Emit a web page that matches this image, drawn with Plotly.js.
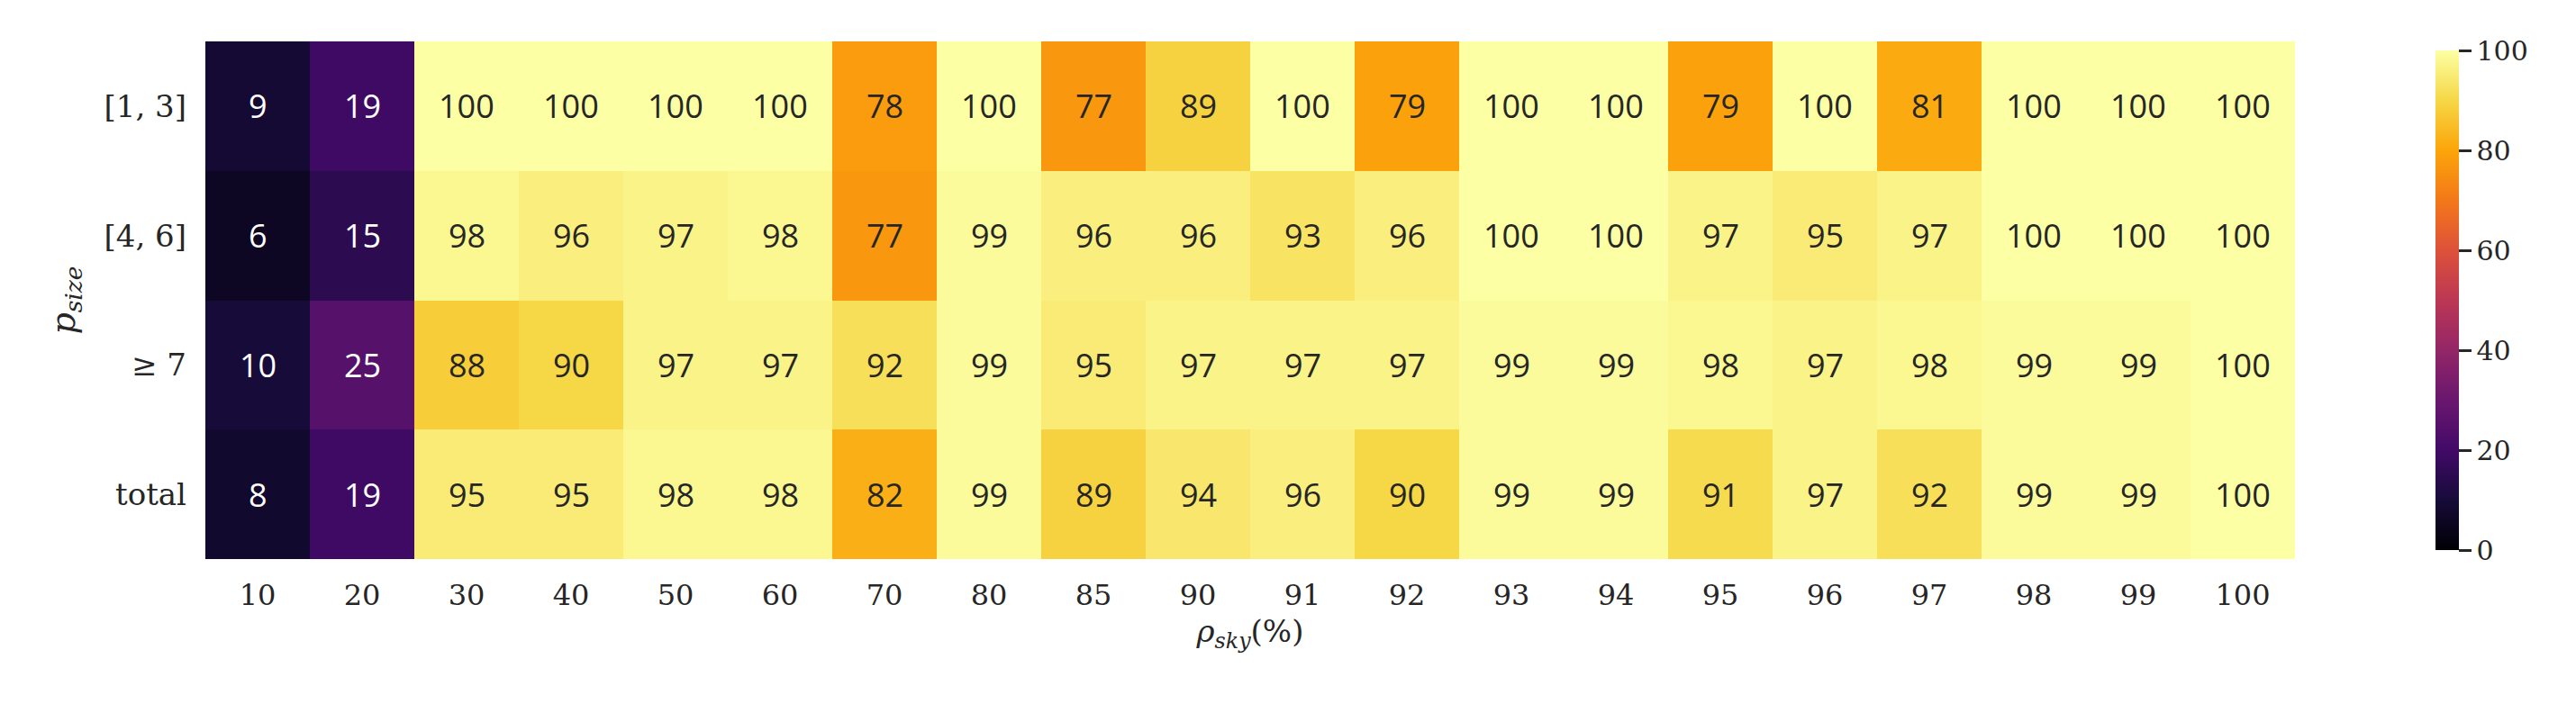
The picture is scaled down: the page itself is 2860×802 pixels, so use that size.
<!DOCTYPE html>
<html>
<head>
<meta charset="utf-8">
<script src="https://cdn.plot.ly/plotly-3.0.1.min.js"></script>
<style>body{margin:0;background:#fff}</style>
</head>
<body>
<div id="plot" style="width:2860px;height:802px"></div>
<script>
const xLabels = ["10","20","30","40","50","60","70","80","85","90","91","92","93","94","95","96","97","98","99","100"];
const yLabels = ["[1, 3]", "[4, 6]", "≥ 7", "total"];
const row13 = [9,19,100,100,100,100,78,100,77,89,100,79,100,100,79,100,81,100,100,100];
const row46 = [6,15,98,96,97,98,77,99,96,96,93,96,100,100,97,95,97,100,100,100];
const row7 = [10,25,88,90,97,97,92,99,95,97,97,97,99,99,98,97,98,99,99,100];
const rowTotal = [8,19,95,95,98,98,82,99,89,94,96,90,99,99,91,97,92,99,99,100];
const z = [row13, row46, row7, rowTotal];

// matplotlib "inferno"
const inferno = [
  [0.0, "#000004"], [0.1, "#160b39"], [0.2, "#420a68"], [0.3, "#6a176e"],
  [0.4, "#932667"], [0.5, "#bc3754"], [0.6, "#dd513a"], [0.7, "#f37819"],
  [0.8, "#fca50a"], [0.9, "#f6d746"], [1.0, "#fcffa4"]
];

const xIdx = xLabels.map((_, j) => j);
const yIdx = yLabels.map((_, i) => i);

const annotations = [];
z.forEach((row, i) => {
  row.forEach((v, j) => {
    annotations.push({
      x: j, y: i, xref: "x", yref: "y", text: String(v), showarrow: false,
      font: {family: "Open Sans, sans-serif", size: 36, color: v < 50 ? "#ffffff" : "#262626"}
    });
  });
});

const trace = {
  type: "heatmap", x: xIdx, y: yIdx, z: z,
  zmin: 0, zmax: 100, colorscale: inferno,
  colorbar: {
    x: 1.063, xanchor: "left", thickness: 26, len: 1, y: 0.5, yanchor: "middle",
    outlinewidth: 0, ticks: "outside", ticklen: 14, tickwidth: 3, tickcolor: "#262626",
    tickvals: [0,20,40,60,80,100],
    tickfont: {family: "DejaVu Serif, serif", size: 30, color: "#262626"}
  },
  hoverinfo: "skip"
};

const layout = {
  margin: {l: 228, r: 312, t: 46, b: 181},
  paper_bgcolor: "#fff", plot_bgcolor: "#fff",
  xaxis: {
    range: [-0.5, xLabels.length - 0.5], tickvals: xIdx, ticktext: xLabels,
    showgrid: false, zeroline: false, ticks: "", ticklabelstandoff: 18,
    tickfont: {family: "DejaVu Serif, serif", size: 32, color: "#262626"},
    title: {text: "<i>ρ</i><sub><i>sky</i></sub>(%)", font: {family: "DejaVu Serif, serif", size: 34, color: "#262626"}, standoff: 10}
  },
  yaxis: {
    range: [yLabels.length - 0.5, -0.5], tickvals: yIdx, ticktext: yLabels,
    showgrid: false, zeroline: false, ticks: "", ticklabelstandoff: 20,
    tickfont: {family: "DejaVu Serif, serif", size: 34, color: "#262626"},
    title: {text: "<i>p</i><sub><i>size</i></sub>", font: {family: "DejaVu Serif, serif", size: 38, color: "#262626"}, standoff: 20}
  },
  annotations: annotations
};

Plotly.newPlot("plot", [trace], layout, {staticPlot: true});
</script>
</body>
</html>
